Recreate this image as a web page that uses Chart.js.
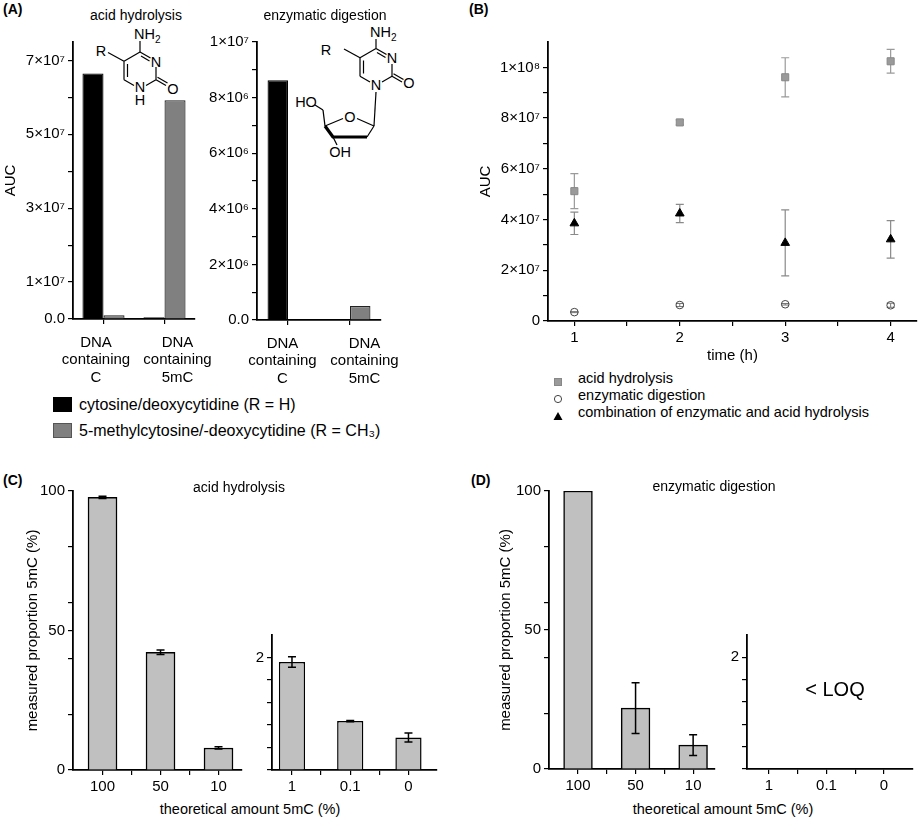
<!DOCTYPE html>
<html>
<head>
<meta charset="utf-8">
<title>5mC detection</title>
<script src="https://cdn.jsdelivr.net/npm/chart.js@4.4.1/dist/chart.umd.min.js"></script>
<style>
  body { margin: 0; background: #fff; font-family: "Liberation Sans", Arial, sans-serif; }
  #page { position: relative; width: 920px; height: 819px; overflow: hidden; }
  .box { position: absolute; }
  .txt { position: absolute; white-space: nowrap; font-size: 14px; color: #000; transform: translate(-50%, -50%); }
  .lbl { position: absolute; white-space: nowrap; font-size: 16px; color: #000; transform: translateY(-50%); }
  .small { font-size: 14.5px; }
  .panel { font-weight: bold; font-size: 14px; }
  .xt { font-size: 14.5px; }
  .loq { font-size: 20px; }
  #chem { position: absolute; left: 0; top: 0; pointer-events: none; }
  #chem text { font-family: "Liberation Sans", Arial, sans-serif; font-size: 14.5px; }
</style>
</head>
<body>
<div id="page">
  <svg id="chem" width="920" height="819">
    <g stroke="#000" stroke-width="1.2" fill="none">
      <!-- cytosine / 5-methylcytosine base -->
      <line x1="140" y1="52" x2="124" y2="61.3"/>
      <line x1="124" y1="61.3" x2="124" y2="79.8"/>
      <line x1="127.5" y1="64" x2="127.5" y2="77"/>
      <line x1="124" y1="79.8" x2="134" y2="85.5"/>
      <line x1="146" y1="85.5" x2="156" y2="79.8"/>
      <line x1="156" y1="79.8" x2="156" y2="67"/>
      <line x1="140" y1="52" x2="150.5" y2="58"/>
      <line x1="141" y1="56" x2="149.5" y2="61"/>
      <line x1="156" y1="79.8" x2="166" y2="85.6"/>
      <line x1="157.5" y1="77.2" x2="167.5" y2="83"/>
      <line x1="140" y1="52" x2="140" y2="41"/>
      <line x1="124" y1="61.3" x2="108" y2="52.5"/>
      <!-- deoxynucleoside -->
      <line x1="376" y1="48.5" x2="360" y2="57.8"/>
      <line x1="360" y1="57.8" x2="360" y2="76.3"/>
      <line x1="363.5" y1="60.5" x2="363.5" y2="73.5"/>
      <line x1="360" y1="76.3" x2="370" y2="82"/>
      <line x1="382" y1="82" x2="392" y2="76.3"/>
      <line x1="392" y1="76.3" x2="392" y2="64"/>
      <line x1="376" y1="48.5" x2="386.5" y2="54.5"/>
      <line x1="377" y1="52.5" x2="385.5" y2="57.5"/>
      <line x1="392" y1="76.3" x2="402" y2="82.1"/>
      <line x1="393.5" y1="73.7" x2="403.5" y2="79.5"/>
      <line x1="376" y1="48.5" x2="376" y2="39"/>
      <line x1="360" y1="57.8" x2="344" y2="49"/>
      <line x1="376" y1="92" x2="374" y2="126"/>
      <line x1="374" y1="126" x2="357" y2="118.5"/>
      <line x1="343" y1="118.5" x2="325" y2="126"/>
      <line x1="374" y1="126" x2="367" y2="137"/>
      <line x1="325" y1="126" x2="323" y2="110"/>
      <line x1="323" y1="110" x2="315" y2="105"/>
      <line x1="333" y1="137" x2="337" y2="145"/>
      <path d="M325 126 L333 137 L367 137" stroke-width="3.2" stroke-linejoin="round"/>
    </g>
    <g fill="#000">
      <text x="134" y="39">NH<tspan font-size="10" dy="4">2</tspan></text>
      <text x="156" y="67" text-anchor="middle">N</text>
      <text x="140" y="92" text-anchor="middle">N</text>
      <text x="140" y="105" text-anchor="middle">H</text>
      <text x="173" y="94" text-anchor="middle">O</text>
      <text x="101" y="56" text-anchor="middle">R</text>
      <text x="370" y="37">NH<tspan font-size="10" dy="4">2</tspan></text>
      <text x="392" y="63" text-anchor="middle">N</text>
      <text x="376" y="90" text-anchor="middle">N</text>
      <text x="409" y="88" text-anchor="middle">O</text>
      <text x="326" y="55" text-anchor="middle">R</text>
      <text x="306" y="107" text-anchor="middle">HO</text>
      <text x="350" y="122" text-anchor="middle">O</text>
      <text x="340" y="157" text-anchor="middle">OH</text>
    </g>
  </svg>
</div>
<script>
'use strict';
// ---------------------- Data -----------------
const sampleLabels = [['DNA', 'containing', 'C'], ['DNA', 'containing', '5mC']];
const baseNames = ['cytosine/deoxycytidine (R = H)', '5-methylcytosine/-deoxycytidine (R = CH₃)'];
const baseColors = ['#000000', '#808080'];

const acidC = [6.65e7, 5e5];
const acid5mC = [1e6, 5.92e7];
const enzC = [8.62e6, 0];
const enz5mC = [0, 5e5];
const acidAucTicks = [0, 1e7, 2e7, 3e7, 4e7, 5e7, 6e7, 7e7];
const acidAucLabels = ['0.0', '1×10⁷', '', '3×10⁷', '', '5×10⁷', '', '7×10⁷'];
const enzAucTicks = [0, 1e6, 2e6, 3e6, 4e6, 5e6, 6e6, 7e6, 8e6, 9e6, 1e7];
const enzAucLabels = ['0.0', '', '2×10⁶', '', '4×10⁶', '', '6×10⁶', '', '8×10⁶', '', '1×10⁷'];

const timeNames = ['acid hydrolysis', 'enzymatic digestion', 'combination of enzymatic and acid hydrolysis'];
const hours = [1, 2, 3, 4];
const acidAuc = [5.12e7, 7.83e7, 9.61e7, 1.024e8];
const acidAucErr = [0.69e7, 0.1e7, 0.77e7, 0.47e7];
const enzAuc = [0.35e7, 0.63e7, 0.66e7, 0.62e7];
const enzAucErr = [0.02e7, 0.06e7, 0.03e7, 0.08e7];
const combAuc = [3.85e7, 4.24e7, 3.08e7, 3.22e7];
const combAucErr = [0.44e7, 0.36e7, 1.3e7, 0.74e7];
const timeTicks = [1, 1.5, 2, 2.5, 3, 3.5, 4];
const timeLabels = ['1', '', '2', '', '3', '', '4'];
const aucTicks = [0, 1e7, 2e7, 3e7, 4e7, 5e7, 6e7, 7e7, 8e7, 9e7, 1e8];
const aucLabels = ['0', '', '2×10⁷', '', '4×10⁷', '', '6×10⁷', '', '8×10⁷', '', '1×10⁸'];

const highAmounts = ['100', '50', '10'];
const lowAmounts = ['1', '0.1', '0'];
const acidHigh = [97.7, 42.2, 7.9];
const acidHighErr = [0.4, 0.8, 0.4];
const acidLow = [1.92, 0.87, 0.58];
const acidLowErr = [0.095, 0.012, 0.08];
const enzHigh = [100, 21.9, 8.6];
const enzHighErr = [0, 9.1, 3.7];
const enzLow = [null, null, null];
const amountTicks = [0, 0.5, 1, 1.5, 2];
const highTicks = [0, 20, 40, 50, 60, 80, 100];
const highLabels = ['0', '', '', '50', '', '', '100'];
const lowTicks = [0, 0.4, 0.8, 1.2, 1.6, 2];
const lowLabels = ['', '', '', '', '', '2'];

// ---------------------- Setup -----------------
const page = document.getElementById('page');
const PAD_T = 12;
const PAD_R = 32;
const tickFont = { size: 15, family: '"Liberation Sans", Arial, sans-serif', lineHeight: 1.17 };
const titleFont = { size: 15, family: '"Liberation Sans", Arial, sans-serif' };
Chart.defaults.font.family = '"Liberation Sans", Arial, sans-serif';
Chart.defaults.font.size = 14;
Chart.defaults.color = '#000';

// error bars are drawn under scatter markers and over bars
function drawErrorBars(chart) {
  const ctx = chart.ctx;
  const yScale = chart.scales.y;
  chart.data.datasets.forEach((ds, di) => {
    if (!ds.errors) return;
    const meta = chart.getDatasetMeta(di);
    ctx.save();
    ctx.strokeStyle = ds.errorColor || '#000';
    ctx.lineWidth = ds.errorWidth || 1.5;
    meta.data.forEach((el, i) => {
      const raw = ds.data[i];
      const v = (raw !== null && typeof raw === 'object') ? raw.y : raw;
      const err = ds.errors[i];
      if (!err || v === null) return;
      const cap = ds.errorCap || 4;
      const top = yScale.getPixelForValue(v + err);
      const bot = yScale.getPixelForValue(v - err);
      ctx.beginPath();
      ctx.moveTo(el.x, top);
      ctx.lineTo(el.x, bot);
      ctx.moveTo(el.x - cap, top);
      ctx.lineTo(el.x + cap, top);
      ctx.moveTo(el.x - cap, bot);
      ctx.lineTo(el.x + cap, bot);
      ctx.stroke();
    });
    ctx.restore();
  });
}
Chart.register({
  id: 'errorBars',
  beforeDatasetsDraw(chart) { if (chart.config.type === 'scatter') drawErrorBars(chart); },
  afterDatasetsDraw(chart) { if (chart.config.type === 'bar') drawErrorBars(chart); }
});

const axisGrid = { drawOnChartArea: false, offset: false, tickLength: 5, color: '#000', lineWidth: 1.2 };
const axisBorder = { color: '#000', width: 1.8 };

function yAxis(max, ticks, labels, width, title) {
  return {
    min: 0,
    max: max,
    afterBuildTicks: s => { s.ticks = ticks.map(v => ({ value: v })); },
    afterFit: s => { s.width = width; },
    ticks: { callback: (v, i) => labels[i], font: tickFont, color: '#000', padding: 3, autoSkip: false },
    grid: axisGrid,
    border: axisBorder,
    title: { display: !!title, text: title || '', font: titleFont, color: '#000', padding: 0 }
  };
}

// numeric x axis whose integer positions carry the category names
function amountAxis(min, max, names) {
  return {
    type: 'linear',
    min: min,
    max: max,
    offset: false,
    afterBuildTicks: s => { s.ticks = amountTicks.map(v => ({ value: v })); },
    afterFit: s => { s.height = 30; },
    ticks: { callback: v => (Number.isInteger(v) ? names[v] : ''), font: tickFont, color: '#000', padding: 3, autoSkip: false, maxRotation: 0 },
    grid: axisGrid,
    border: axisBorder
  };
}

// A panels: tick marks on the bar groups, labels on their own hidden axis
function sampleAxes(labelMin, labelMax) {
  return {
    x: {
      type: 'category',
      weight: 0,
      afterFit: s => { s.height = 6; },
      ticks: { display: false },
      grid: axisGrid,
      border: axisBorder
    },
    x2: {
      type: 'linear',
      position: 'bottom',
      weight: 1,
      min: labelMin,
      max: labelMax,
      offset: false,
      afterBuildTicks: s => { s.ticks = sampleLabels.map((l, i) => ({ value: i })); },
      afterFit: s => { s.height = 66; },
      ticks: { callback: (v, i) => sampleLabels[i], font: tickFont, color: '#000', padding: 9, maxRotation: 0, autoSkip: false },
      grid: { display: false, drawTicks: false },
      border: { display: false }
    }
  };
}

function baseOptions(scales, catPct, barPct) {
  return {
    responsive: true,
    maintainAspectRatio: false,
    animation: false,
    layout: { padding: { top: PAD_T, right: PAD_R, left: 0, bottom: 0 } },
    plugins: { legend: { display: false }, tooltip: { enabled: false } },
    datasets: { bar: { categoryPercentage: catPct || 1, barPercentage: barPct || 1 } },
    scales: scales
  };
}

function makeChart(id, plot, yw, xh, config) {
  const holder = document.createElement('div');
  holder.className = 'box';
  holder.style.left = (plot.x0 - yw) + 'px';
  holder.style.top = (plot.y0 - PAD_T) + 'px';
  holder.style.width = (plot.x1 - plot.x0 + yw + PAD_R) + 'px';
  holder.style.height = (plot.y1 - plot.y0 + PAD_T + xh) + 'px';
  const canvas = document.createElement('canvas');
  canvas.id = id;
  holder.appendChild(canvas);
  page.appendChild(holder);
  return new Chart(canvas, config);
}

function addText(text, x, y, cls) {
  const el = document.createElement('div');
  el.className = cls || 'txt';
  el.textContent = text;
  el.style.left = x + 'px';
  el.style.top = y + 'px';
  page.appendChild(el);
  return el;
}

function barSet(data, color, border, name) {
  return { label: name, data: data, xAxisID: 'x', backgroundColor: color, borderColor: border, borderWidth: 1.2 };
}

// ---------------------- Panel A -----------------
const acidAxes = sampleAxes(-0.282, 1.215);
acidAxes.y = yAxis(7.5e7, acidAucTicks, acidAucLabels, 71, 'AUC');
makeChart('acidBars', { x0: 73, x1: 195, y0: 42, y1: 319 }, 71, 72, {
  type: 'bar',
  data: {
    labels: sampleLabels,
    datasets: [
      barSet(acidC, baseColors[0], '#000', baseNames[0]),
      barSet(acid5mC, baseColors[1], '#222', baseNames[1])
    ]
  },
  options: baseOptions(acidAxes, 0.69)
});

const enzAxes = sampleAxes(-0.311, 1.201);
enzAxes.y = yAxis(1e7, enzAucTicks, enzAucLabels, 62);
makeChart('enzBars', { x0: 257, x1: 381, y0: 42, y1: 320 }, 62, 72, {
  type: 'bar',
  data: {
    labels: sampleLabels,
    datasets: [
      barSet(enzC, baseColors[0], '#000', baseNames[0]),
      barSet(enz5mC, baseColors[1], '#222', baseNames[1])
    ]
  },
  options: baseOptions(enzAxes, 0.66)
});

// ---------------------- Panel B -----------------
function points(values) {
  return hours.map((h, i) => ({ x: h, y: values[i] }));
}
const timeX = {
  type: 'linear',
  min: 0.75,
  max: 4.25,
  afterBuildTicks: s => { s.ticks = timeTicks.map(v => ({ value: v })); },
  afterFit: s => { s.height = 44; },
  ticks: { callback: (v, i) => timeLabels[i], font: tickFont, color: '#000', padding: 3, autoSkip: false },
  grid: axisGrid,
  border: axisBorder,
  title: { display: true, text: 'time (h)', font: titleFont, color: '#000', padding: 0 }
};
makeChart('timeCourse', { x0: 548, x1: 917, y0: 42, y1: 321 }, 71, 44, {
  type: 'scatter',
  data: {
    datasets: [
      { label: timeNames[0], data: points(acidAuc), errors: acidAucErr, errorColor: '#9a9a9a', errorWidth: 1.2,
        pointStyle: 'rect', pointRadius: 5, backgroundColor: '#9a9a9a', borderColor: '#888', borderWidth: 1 },
      { label: timeNames[1], data: points(enzAuc), errors: enzAucErr, errorColor: '#777', errorWidth: 1,
        pointStyle: 'circle', pointRadius: 3.8, backgroundColor: 'rgba(0,0,0,0)', borderColor: '#444', borderWidth: 1 },
      { label: timeNames[2], data: points(combAuc), errors: combAucErr, errorColor: '#8a8a8a', errorWidth: 1.2,
        pointStyle: 'triangle', pointRadius: 5, backgroundColor: '#000', borderColor: '#000', borderWidth: 1 }
    ]
  },
  options: baseOptions({ x: timeX, y: yAxis(1.1e8, aucTicks, aucLabels, 71, 'AUC') })
});

// ---------------------- Panels C and D -----------------
function amountBars(values, errors) {
  return {
    data: values.map((v, i) => ({ x: i, y: v })),
    errors: errors,
    backgroundColor: '#c0c0c0', borderColor: '#000', borderWidth: 1.5,
    errorColor: '#000', errorWidth: 1.5, errorCap: 4
  };
}
const yTitle = 'measured proportion 5mC (%)';

// bar width is taken relative to the half-step tick spacing
makeChart('acidHigh', { x0: 73, x1: 242, y0: 491, y1: 770 }, 49, 30, {
  type: 'bar',
  data: { datasets: [amountBars(acidHigh, acidHighErr)] },
  options: baseOptions({ x: amountAxis(-0.509, 2.405, highAmounts), y: yAxis(100, highTicks, highLabels, 49, yTitle) }, 1, 1)
});
makeChart('acidLow', { x0: 272, x1: 437, y0: 635, y1: 770 }, 30, 30, {
  type: 'bar',
  data: { datasets: [amountBars(acidLow, acidLowErr)] },
  options: baseOptions({ x: amountAxis(-0.343, 2.49, lowAmounts), y: yAxis(2.4, lowTicks, lowLabels, 30) }, 1, 0.9)
});
makeChart('enzHigh', { x0: 549, x1: 715, y0: 491, y1: 769 }, 52, 30, {
  type: 'bar',
  data: { datasets: [amountBars(enzHigh, enzHighErr)] },
  options: baseOptions({ x: amountAxis(-0.504, 2.38, highAmounts), y: yAxis(100, highTicks, highLabels, 52, yTitle) }, 1, 1)
});
makeChart('enzLow', { x0: 747, x1: 913, y0: 635, y1: 769 }, 30, 30, {
  type: 'bar',
  data: { datasets: [amountBars(enzLow, null)] },
  options: baseOptions({ x: amountAxis(-0.383, 2.504, lowAmounts), y: yAxis(2.4, lowTicks, lowLabels, 30) }, 1, 1)
});

// ---------------------- Texts and legends -----------------
addText('(A)', 3, 9, 'lbl panel');
addText('(B)', 469, 9, 'lbl panel');
addText('(C)', 3, 480, 'lbl panel');
addText('(D)', 471, 480, 'lbl panel');
addText('acid hydrolysis', 136, 15);
addText('enzymatic digestion', 325, 15);
addText('acid hydrolysis', 239, 487);
addText('enzymatic digestion', 714, 486);
addText('theoretical amount 5mC (%)', 250, 809, 'txt xt');
addText('theoretical amount 5mC (%)', 723, 809, 'txt xt');
addText('< LOQ', 835, 689, 'txt loq');

baseNames.forEach((name, i) => {
  const y = 405 + i * 26;
  const sw = document.createElement('div');
  sw.className = 'box';
  Object.assign(sw.style, { left: '53px', top: (y - 8) + 'px', width: '19px', height: '15px',
    background: baseColors[i], boxSizing: 'border-box', border: '1px solid ' + (i ? '#555' : '#000') });
  page.appendChild(sw);
  addText(name, 79, y, 'lbl');
});

const markerSvg = [
  '<rect x="1.5" y="1.5" width="7" height="7" fill="#9a9a9a" stroke="#888"/>',
  '<circle cx="5" cy="5" r="3.6" fill="none" stroke="#444"/>',
  '<polygon points="5,1 9.5,9 0.5,9" fill="#000"/>'
];
timeNames.forEach((name, i) => {
  const y = 378 + i * 17;
  const m = document.createElement('div');
  m.className = 'box';
  m.style.left = '553px';
  m.style.top = (y - 5) + 'px';
  m.innerHTML = '<svg width="10" height="10">' + markerSvg[i] + '</svg>';
  page.appendChild(m);
  addText(name, 578, y, 'lbl small');
});
</script>
</body>
</html>
